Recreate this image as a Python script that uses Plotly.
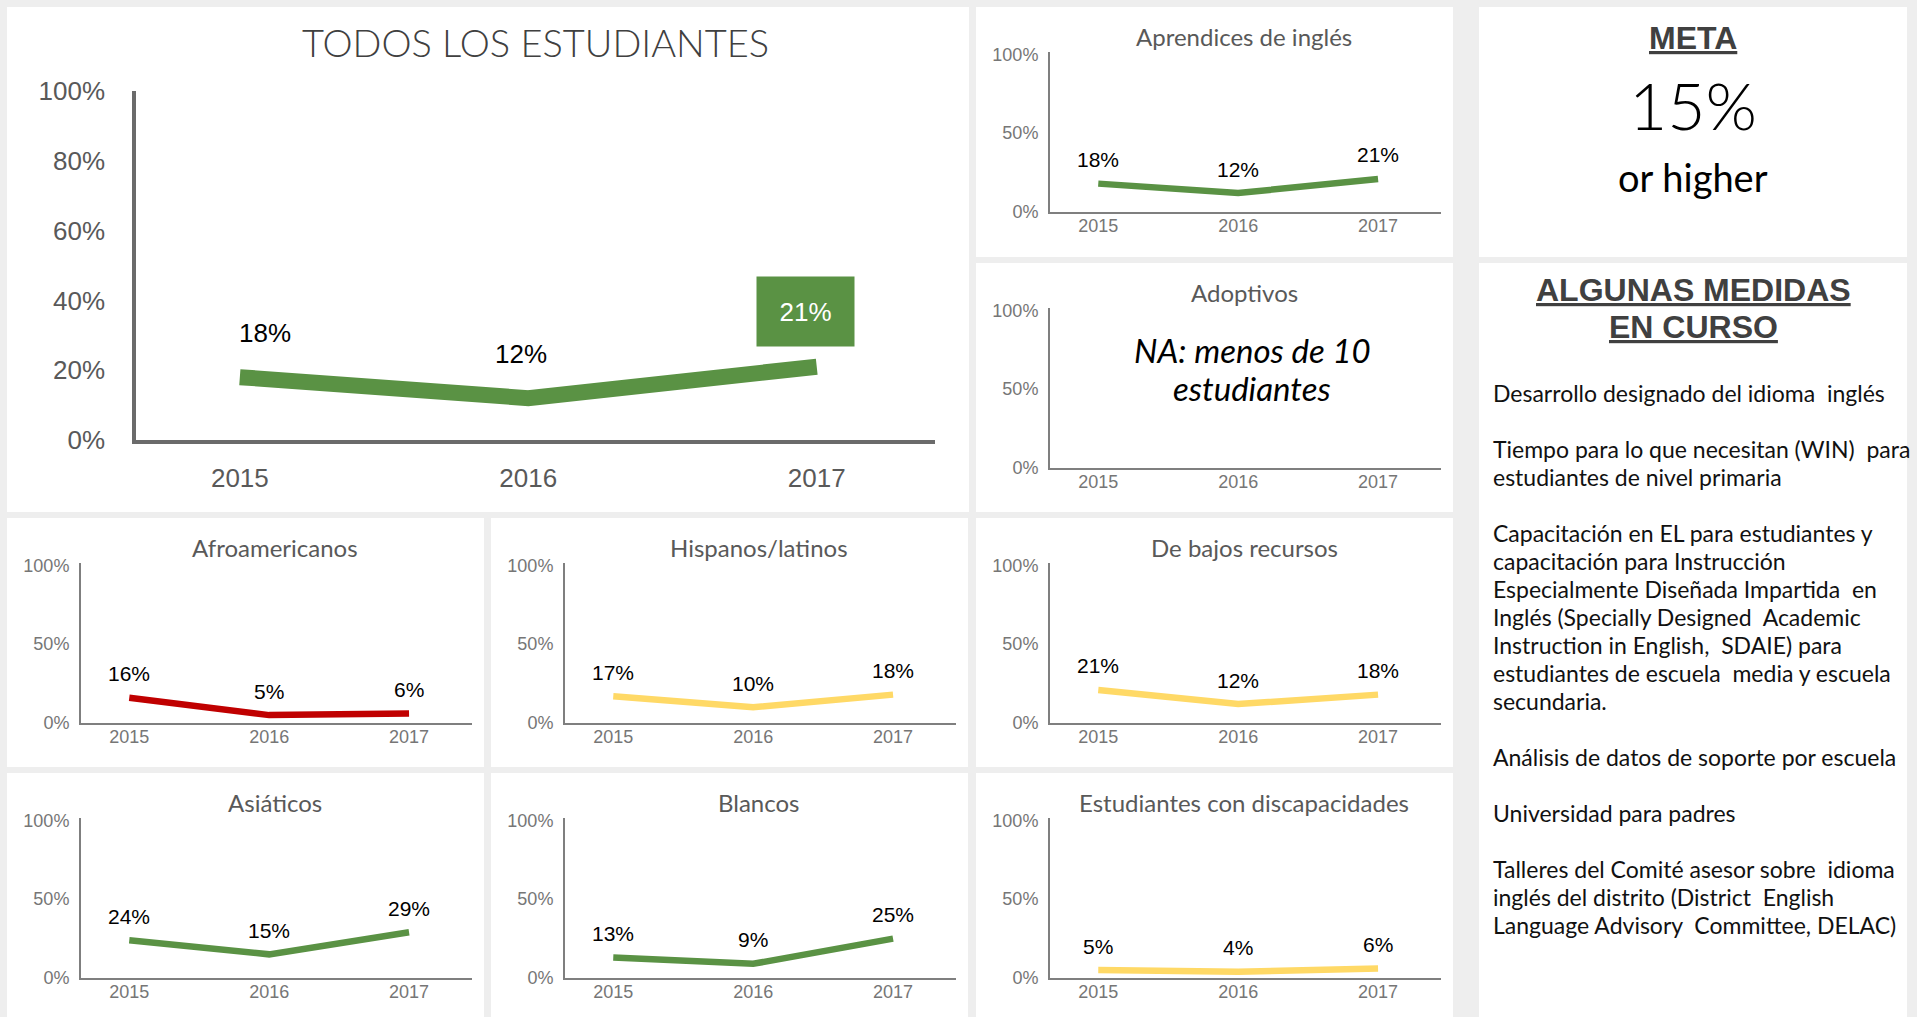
import plotly.graph_objects as go

# ---------------- data ----------------
years = ["2015", "2016", "2017"]

todos = [18, 12, 21]
aprendices = [18, 12, 21]
adoptivos = [None, None, None]
afroamericanos = [16, 5, 6]
hispanos = [17, 10, 18]
bajos_recursos = [21, 12, 18]
asiaticos = [24, 15, 29]
blancos = [13, 9, 25]
discapacidades = [5, 4, 6]

small_ticks = [0, 50, 100]
main_ticks = [0, 20, 40, 60, 80, 100]

meta_value = "15%"
medidas = [
    "Desarrollo designado del idioma  inglés",
    "",
    "Tiempo para lo que necesitan (WIN)  para",
    "estudiantes de nivel primaria",
    "",
    "Capacitación en EL para estudiantes y",
    "capacitación para Instrucción",
    "Especialmente Diseñada Impartida  en",
    "Inglés (Specially Designed  Academic",
    "Instruction in English,  SDAIE) para",
    "estudiantes de escuela  media y escuela",
    "secundaria.",
    "",
    "Análisis de datos de soporte por escuela",
    "",
    "Universidad para padres",
    "",
    "Talleres del Comité asesor sobre  idioma",
    "inglés del distrito (District  English",
    "Language Advisory  Committee, DELAC)",
]

# ---------------- styling ----------------
W, H = 1917, 1017
BG = "#eeeeee"
GREEN = "#5a9244"
RED = "#c00000"
YELLOW = "#ffd966"
AXIS = "#7f7f7f"
TICK = "#767676"
TITLE_FONT = "Lato, 'Open Sans', sans-serif"
NUM_FONT = "'Liberation Sans', Arial, sans-serif"

# horizontal nudge of the three value labels on the main chart
main_label_dx = [25, -7, -11]


def fx(p):
    return p / W


def fy(p):
    return 1 - p / H


fig = go.Figure()
shapes = []
annotations = []


def panel(x0, y0, x1, y1):
    shapes.append(dict(type="rect", xref="paper", yref="paper",
                       x0=fx(x0), x1=fx(x1), y0=fy(y1), y1=fy(y0),
                       fillcolor="white", line=dict(width=0), layer="below"))


def txt(x, y, text, size, color="#000", family=TITLE_FONT, xanchor="center",
        weight=None, italic=False, **kw):
    f = dict(size=size, color=color, family=family)
    if weight:
        f["weight"] = weight
    if italic:
        f["style"] = "italic"
    annotations.append(dict(x=fx(x), y=fy(y), xref="paper", yref="paper",
                            text=text, showarrow=False, xanchor=xanchor,
                            yanchor="middle", font=f, **kw))


# ---------------- main chart: TODOS LOS ESTUDIANTES ----------------
panel(7, 7, 969, 512)
fig.add_trace(go.Scatter(x=[0, 1, 2], y=todos, mode="lines",
                         line=dict(color=GREEN, width=16), hoverinfo="skip",
                         xaxis="x", yaxis="y", showlegend=False))
fig.update_layout(
    xaxis=dict(domain=[fx(136), fx(935)], anchor="y", range=[-0.36, 2.41],
               tickvals=[0, 1, 2], ticktext=years, showline=True,
               linecolor="#6b6b6b", linewidth=3.5, showgrid=False, zeroline=False,
               ticks="", ticklabelstandoff=12, automargin=False,
               tickfont=dict(family=NUM_FONT, size=26, color="#595959"),
               fixedrange=True),
    yaxis=dict(domain=[fy(440), fy(91)], anchor="x", range=[0, 100],
               tickvals=main_ticks, ticktext=[f"{t}%" for t in main_ticks],
               showline=True, linecolor="#6b6b6b", linewidth=3.5,
               showgrid=False, zeroline=False, ticks="", ticklabelstandoff=22,
               automargin=False,
               tickfont=dict(family=NUM_FONT, size=26, color="#595959"),
               fixedrange=True),
)
txt(535, 42, "TODOS LOS ESTUDIANTES", 38, color="#404040", weight=300)
for i, v in enumerate(todos):
    if i < len(todos) - 1:
        annotations.append(dict(x=i, y=v, xref="x", yref="y", text=f"{v}%",
                                showarrow=False, yshift=44, xshift=main_label_dx[i],
                                font=dict(family=NUM_FONT, size=26, color="#000")))
    else:
        annotations.append(dict(x=i, y=v, xref="x", yref="y", text=f"{v}%",
                                showarrow=False, yshift=55, xshift=main_label_dx[i],
                                width=95, height=67, bgcolor=GREEN,
                                font=dict(family=NUM_FONT, size=26, color="white")))

# ---------------- small charts ----------------
small = [
    ("Aprendices de inglés", aprendices, GREEN, 976, 7, 257),
    ("Adoptivos", adoptivos, GREEN, 976, 263, 512),
    ("Afroamericanos", afroamericanos, RED, 7, 518, 767),
    ("Hispanos/latinos", hispanos, YELLOW, 491, 518, 767),
    ("De bajos recursos", bajos_recursos, YELLOW, 976, 518, 767),
    ("Asiáticos", asiaticos, GREEN, 7, 773, 1017),
    ("Blancos", blancos, GREEN, 491, 773, 1017),
    ("Estudiantes con discapacidades", discapacidades, YELLOW, 976, 773, 1017),
]

for k, (title, vals, color, x0, y0, y1) in enumerate(small, start=2):
    x1 = x0 + 477
    panel(x0, y0, x1, y1)
    xa, ya = f"x{k}", f"y{k}"
    fig.add_trace(go.Scatter(x=[0, 1, 2], y=vals, mode="lines",
                             line=dict(color=color, width=6.5), hoverinfo="skip",
                             xaxis=xa, yaxis=ya, showlegend=False))
    ax_left = x0 + 74
    fig.layout[f"xaxis{k}"] = dict(
        domain=[fx(ax_left), fx(ax_left + 391)], anchor=ya, range=[-0.345, 2.45],
        tickvals=[0, 1, 2], ticktext=years, showline=True, linecolor=AXIS,
        linewidth=2, showgrid=False, zeroline=False, ticks="",
        ticklabelstandoff=-4, automargin=False,
        tickfont=dict(family=NUM_FONT, size=18, color=TICK), fixedrange=True)
    fig.layout[f"yaxis{k}"] = dict(
        domain=[fy(y0 + 205), fy(y0 + 45)], anchor=xa, range=[0, 101.5],
        tickvals=small_ticks, ticktext=[f"{t}%" for t in small_ticks],
        showline=True, linecolor=AXIS, linewidth=2, showgrid=False,
        zeroline=False, ticks="", ticklabelstandoff=6, automargin=False,
        tickfont=dict(family=NUM_FONT, size=18, color=TICK), fixedrange=True)
    txt(x0 + 268, y0 + 29, title, 24, color="#595959")
    for i, v in enumerate(vals):
        if v is None:
            continue
        annotations.append(dict(x=i, y=v, xref=xa, yref=ya, text=f"{v}%",
                                showarrow=False, yshift=24,
                                font=dict(family=NUM_FONT, size=21, color="#000")))

# note for the empty Adoptivos chart
txt(1252, 350, "NA: menos de 10", 33, italic=True)
txt(1252, 388, "estudiantes", 33, italic=True)

# ---------------- META panel ----------------
panel(1479, 7, 1907, 257)
txt(1693, 38, "<b><u>META</u></b>", 32, color="#404040", family=NUM_FONT)
txt(1693, 104, meta_value, 66, color="#000", weight=300)
txt(1693, 177, "or higher", 38, color="#000")

# ---------------- ongoing measures panel ----------------
panel(1479, 263, 1907, 1017)
txt(1693, 290, "<b><u>ALGUNAS MEDIDAS</u></b>", 32, color="#404040", family=NUM_FONT)
txt(1693, 327, "<b><u>EN CURSO</u></b>", 32, color="#404040", family=NUM_FONT)
for i, line in enumerate(medidas):
    if line:
        txt(1491, 393 + 28 * i, line, 23, color="#111", xanchor="left")

fig.update_layout(
    width=W, height=H, margin=dict(l=0, r=0, t=0, b=0, pad=0, autoexpand=False),
    paper_bgcolor=BG, plot_bgcolor="white",
    shapes=shapes, annotations=annotations, showlegend=False,
)

fig.write_html(
    "out.html",
    config={"displayModeBar": False},
    post_script="document.body.style.margin='0';document.body.style.overflow='hidden';",
)
